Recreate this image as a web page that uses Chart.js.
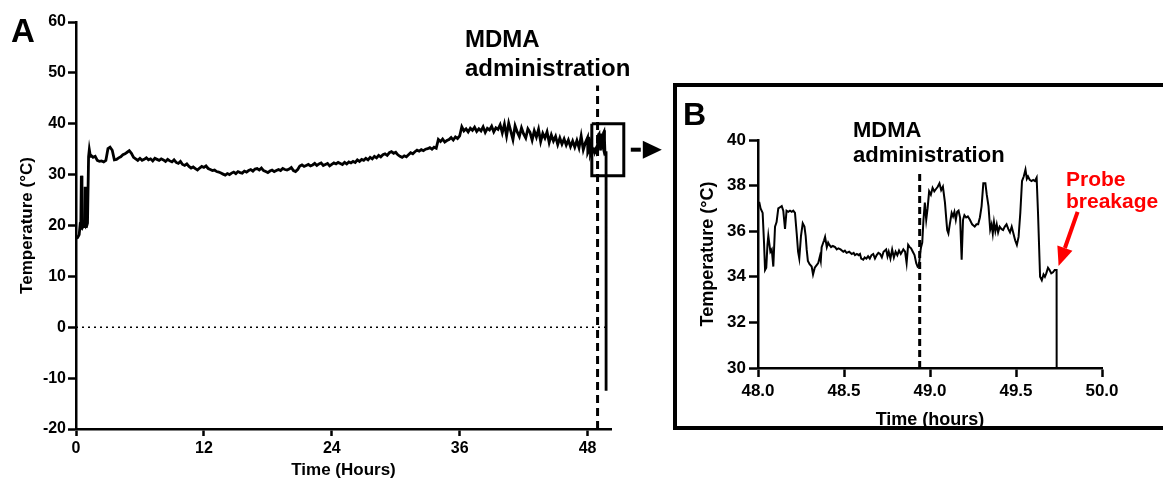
<!DOCTYPE html>
<html>
<head>
<meta charset="utf-8">
<script src="https://cdn.jsdelivr.net/npm/chart.js@4/dist/chart.umd.min.js"></script>
<style>
  html, body { margin: 0; padding: 0; background: #fff; width: 1163px; height: 481px; overflow: hidden; }
  #chartA { position: absolute; left: 0; top: 0; }
  #chartB { position: absolute; left: 677px; top: 87px; }
  #frameB { position: absolute; left: 673px; top: 83px; width: 600px; height: 347px;
            box-sizing: border-box; border: 4px solid #000; pointer-events: none; }
</style>
</head>
<body>
<canvas id="chartA" width="672" height="481"></canvas>
<canvas id="chartB" width="486" height="345"></canvas>
<div id="frameB"></div>
<script>
// ---------- Panel A: whole recording ----------
// Probe insertion / warm-up (irregular samples)
const timeEarly = [0, 0.15, 0.3, 0.38, 0.45, 0.5, 0.56, 0.65, 0.75, 0.82, 0.86, 0.92, 1.0, 1.08, 1.18, 1.25, 1.35];
const tempEarly = [17.5, 17.6, 18.2, 20.0, 19.8, 29.8, 21.0, 19.8, 20.2, 20.0, 27.6, 20.0, 19.9, 20.5, 33.5, 34.9, 33.6];

// Regular sampling from 1.4 h to 47.8 h
const sampleStartA = 1.4;   // hours
const sampleStepA = 0.2;    // hours between samples
const tempA = [
  33.8, 33.4, 33.6,
  32.8, 32.6, 32.7, 32.5, 32.8,
  35.1, 35.4, 34.8, 32.9, 33.0,
  33.3, 33.5, 33.9, 34.1, 34.4,
  34.7, 34.2, 33.4, 33.1, 32.8,
  33.2, 32.8, 33.0, 33.3, 32.9,
  33.1, 32.7, 33.2, 33.0, 32.8,
  33.1, 32.9, 32.6, 33.0, 32.7,
  32.5, 32.9, 32.4, 32.2, 32.6,
  32.0, 31.8, 32.1, 31.6, 31.3,
  31.5, 31.2, 30.9, 31.3, 31.6,
  31.4, 31.7, 31.2, 31.0, 30.8,
  30.9, 30.6, 30.5, 30.3, 30.1,
  29.9, 30.2, 30.0, 30.3, 30.5,
  30.2, 30.6, 30.4, 30.3, 30.7,
  30.5, 30.8, 31.0, 30.7, 31.1,
  31.2, 30.9, 31.3, 30.8, 30.6,
  30.4, 30.7, 30.9, 30.6, 30.8,
  31.0, 30.8, 31.2, 31.0, 30.9,
  31.1, 31.4, 30.8, 30.6, 31.0,
  31.7, 31.9, 31.6, 31.8, 32.0,
  31.7, 31.9, 32.2, 31.8, 32.1,
  32.3, 31.8, 32.0, 32.2, 31.7,
  32.0, 32.3, 32.1, 32.4, 32.2,
  32.0, 32.4, 32.1, 32.5, 32.3,
  32.6, 32.4, 32.9, 32.6, 33.0,
  32.8, 33.2, 32.9, 33.4, 33.1,
  33.6, 33.3, 33.8, 33.5, 33.9,
  34.1, 33.8, 34.3, 34.5, 34.2,
  34.4, 33.9, 33.6, 33.4, 33.7,
  33.5, 33.9, 34.3, 34.1, 34.5,
  34.8, 34.6, 34.9, 34.7, 35.0,
  35.1, 35.3, 35.0, 35.4, 35.2,
  36.9, 36.5, 37.0, 36.4, 36.7,
  36.9, 37.3, 36.8, 37.4, 37.1,
  37.6, 39.4, 38.6, 39.0, 38.4,
  39.1, 38.7, 39.3, 38.5, 39.0,
  38.6, 39.4, 38.3, 39.1, 38.8,
  39.5, 38.4, 39.2, 38.9, 39.8,
  38.2, 39.9, 37.6, 40.1, 38.5,
  36.9, 39.6, 38.4, 37.5, 39.2,
  38.0, 37.2, 39.0, 38.3, 36.8,
  38.6, 37.4, 38.9, 36.5, 38.1,
  37.2, 38.4, 36.3, 37.8, 36.6,
  37.5, 35.9, 37.2, 36.0, 37.0,
  35.8, 36.8, 35.5, 36.6, 35.4,
  36.7, 35.3, 37.6, 34.9, 36.3
];

// ---------- Panel B: last two hours, fine sampling ----------
const timeB = [
  48.000, 48.008, 48.015, 48.027, 48.035, 48.041, 48.048, 48.055, 48.060, 48.065,
  48.072, 48.080, 48.089, 48.099, 48.108, 48.118, 48.128, 48.138, 48.147, 48.157,
  48.166, 48.176, 48.186, 48.196, 48.205, 48.215, 48.225, 48.233, 48.240, 48.250,
  48.260, 48.270, 48.277, 48.283, 48.290, 48.300, 48.312, 48.320, 48.330, 48.340,
  48.350, 48.360, 48.365, 48.370, 48.377, 48.384, 48.390, 48.400, 48.408, 48.415,
  48.425, 48.435, 48.448, 48.458, 48.467, 48.480, 48.496, 48.505, 48.515, 48.530,
  48.545, 48.556, 48.564, 48.575, 48.585, 48.593, 48.600, 48.612, 48.620, 48.630,
  48.640, 48.650, 48.660, 48.670, 48.680, 48.690, 48.700, 48.710, 48.720, 48.730,
  48.745, 48.753, 48.760, 48.770, 48.780, 48.790, 48.800, 48.810, 48.820, 48.830,
  48.845, 48.855, 48.864, 48.873, 48.882, 48.890, 48.900, 48.910, 48.920, 48.928,
  48.936, 48.942, 48.948, 48.955, 48.962, 48.970, 48.978, 48.986, 48.995, 49.005,
  49.015, 49.025, 49.035, 49.045, 49.055, 49.065, 49.075, 49.087, 49.095, 49.100,
  49.107, 49.115, 49.126, 49.134, 49.142, 49.150, 49.158, 49.166, 49.175, 49.184,
  49.192, 49.200, 49.210, 49.220, 49.232, 49.245, 49.260, 49.270, 49.280, 49.290,
  49.300, 49.310, 49.322, 49.330, 49.340, 49.350, 49.358, 49.365, 49.372, 49.380,
  49.388, 49.396, 49.405, 49.415, 49.425, 49.435, 49.445, 49.455, 49.465, 49.475,
  49.485, 49.495, 49.505, 49.515, 49.525, 49.535, 49.545, 49.555, 49.563, 49.570,
  49.580, 49.590, 49.600, 49.610, 49.620, 49.628, 49.640, 49.650, 49.660, 49.668,
  49.676, 49.686, 49.695, 49.705, 49.715, 49.725, 49.736, 49.740
];
const tempB = [
  37.25, 37.25, 37.0, 36.8, 35.5, 34.3, 34.4, 35.4, 35.8, 35.5,
  35.1, 35.2, 34.45, 36.2, 36.4, 37.0, 37.05, 37.1, 36.9, 36.1,
  36.9, 36.85, 36.9, 36.85, 36.9, 36.8, 35.9, 35.1, 34.8, 35.8,
  36.35, 36.2, 35.8, 35.2, 34.7, 34.55, 34.45, 34.1, 34.4, 34.5,
  34.6, 34.9, 34.7, 35.3, 35.45, 35.6, 35.75, 35.3, 35.5, 35.4,
  35.3, 35.35, 35.3, 35.2, 35.25, 35.2, 35.1, 35.15, 35.05, 35.1,
  35.0, 35.05, 34.95, 35.0, 34.95, 35.0, 34.8, 34.75, 34.85, 34.8,
  34.9, 34.8, 34.95, 35.0, 34.8, 34.95, 35.05, 35.0, 34.85, 35.1,
  35.2, 34.9, 35.1, 34.8, 35.2, 34.85, 35.1, 34.95, 35.15, 35.0,
  35.2, 35.1, 34.6, 35.4, 35.3, 35.25, 35.1, 34.95, 34.6, 34.45,
  34.5, 35.0, 35.3, 35.5, 36.5, 37.25, 36.5, 37.0, 37.75, 37.6,
  37.9, 37.75, 37.85, 37.95, 38.1, 37.8, 37.95, 37.25, 36.5, 36.05,
  35.9, 36.3, 36.8, 36.65, 36.85, 36.5, 36.85, 36.9, 36.6, 34.75,
  36.5, 36.7, 36.6, 36.65, 36.5, 36.3, 36.2, 36.3, 36.3, 36.6,
  37.1, 38.1, 38.1, 37.6, 37.1, 36.07, 36.3, 35.9, 36.4, 36.0,
  36.3, 35.95, 36.2, 36.1, 36.05, 36.2, 36.3, 36.1, 35.95, 36.2,
  35.9, 35.6, 35.4, 35.75, 36.8, 38.2, 38.4, 38.7, 38.3, 38.4,
  38.25, 38.2, 38.25, 38.2, 38.35, 36.8, 34.0, 33.85, 34.1, 34.0,
  34.15, 34.4, 34.3, 34.15, 34.2, 34.3, 34.3, -12.5
];

// Event markers and axis ticks
const mdmaTime = 48.94;          // hours
const breakageIndex = timeB.length - 2; // last valid reading before the probe broke
const hourTicksA = [0, 12, 24, 36, 48];
const tempTicksA = [-20, -10, 0, 10, 20, 30, 40, 50, 60];
const hourTicksB = [48.0, 48.5, 49.0, 49.5, 50.0];
const tempTicksB = [30, 32, 34, 36, 38, 40];
// Region of panel A enlarged in panel B
const zoomRegion = { x1: 48.4, x2: 51.4, y1: 29.8, y2: 40 };

const FONT = "'Liberation Sans', Arial, Helvetica, sans-serif";
Chart.defaults.font.family = FONT;
Chart.defaults.font.weight = 'bold';
Chart.defaults.color = '#000';

// Build point lists
const traceA = [];
timeEarly.forEach((t, i) => traceA.push({ x: t, y: tempEarly[i] }));
tempA.forEach((v, i) => traceA.push({ x: +(sampleStartA + i * sampleStepA).toFixed(2), y: v }));
timeB.forEach((t, i) => traceA.push({ x: t, y: tempB[i] }));
const traceB = timeB.map((t, i) => ({ x: t, y: tempB[i] }));

function axisStyle(width, tickLen) {
  return {
    grid: { display: true, drawOnChartArea: false, drawTicks: true, tickLength: tickLen, tickWidth: width, tickColor: '#000' },
    border: { display: true, color: '#000', width: width }
  };
}

// ---------- Chart A ----------
const annotateA = {
  id: 'annotateA',
  afterDraw(chart) {
    const ctx = chart.ctx;
    const xs = chart.scales.x, ys = chart.scales.y;
    ctx.save();
    ctx.fillStyle = '#000';
    ctx.textBaseline = 'alphabetic';
    ctx.font = 'bold 33px ' + FONT;
    ctx.fillText('A', 11, 42);
    ctx.font = 'bold 24px ' + FONT;
    ctx.fillText('MDMA', 465, 47);
    ctx.fillText('administration', 465, 76);
    // pointer from the enlarged region towards panel B
    const bx = xs.getPixelForValue(zoomRegion.x2);
    const by = (ys.getPixelForValue(zoomRegion.y1) + ys.getPixelForValue(zoomRegion.y2)) / 2;
    ctx.strokeStyle = '#000';
    ctx.lineWidth = 4;
    ctx.beginPath();
    ctx.moveTo(bx + 7, by); ctx.lineTo(bx + 17, by);
    ctx.stroke();
    ctx.beginPath();
    ctx.moveTo(bx + 19, by - 9); ctx.lineTo(bx + 38, by); ctx.lineTo(bx + 19, by + 9);
    ctx.closePath();
    ctx.fill();
    ctx.restore();
  }
};

new Chart(document.getElementById('chartA'), {
  type: 'line',
  data: {
    datasets: [
      { data: traceA, borderColor: '#000', borderWidth: 2.8, pointRadius: 0, tension: 0, order: 1 },
      { data: [{ x: 0, y: 0 }, { x: 49.8, y: 0 }], borderColor: '#000', borderWidth: 1.5, borderDash: [2, 4], pointRadius: 0, order: 3 },
      { data: [{ x: mdmaTime, y: -20 }, { x: mdmaTime, y: 47.5 }], borderColor: '#000', borderWidth: 3, borderDash: [8, 5], pointRadius: 0, order: 2, clip: false },
      { data: [
          { x: zoomRegion.x1, y: zoomRegion.y2 }, { x: zoomRegion.x2, y: zoomRegion.y2 },
          { x: zoomRegion.x2, y: zoomRegion.y1 }, { x: zoomRegion.x1, y: zoomRegion.y1 },
          { x: zoomRegion.x1, y: zoomRegion.y2 }
        ], borderColor: '#000', borderWidth: 3, pointRadius: 0, order: 0, clip: false }
    ]
  },
  options: {
    responsive: false,
    animation: false,
    layout: { padding: { left: 0, top: 22, right: 61, bottom: 0 } },
    plugins: { legend: { display: false }, tooltip: { enabled: false } },
    scales: {
      x: Object.assign({
        type: 'linear', min: 0, max: 50.2,
        afterBuildTicks: s => { s.ticks = hourTicksA.map(v => ({ value: v })); },
        afterFit: s => { s.height = 52; },
        ticks: { font: { size: 16, weight: 'bold' }, color: '#000', padding: 3, maxRotation: 0 },
        title: { display: true, text: 'Time (Hours)', font: { size: 17, weight: 'bold' }, color: '#000', padding: { top: 0, bottom: 0 } }
      }, axisStyle(2.5, 7)),
      y: Object.assign({
        type: 'linear', min: -20, max: 60,
        afterBuildTicks: s => { s.ticks = tempTicksA.map(v => ({ value: v })); },
        afterFit: s => { s.width = 76; },
        ticks: { font: { size: 16, weight: 'bold' }, color: '#000', padding: 2 },
        title: { display: true, text: 'Temperature (°C)', font: { size: 17, weight: 'bold' }, color: '#000', padding: { top: 17, bottom: 0 } }
      }, axisStyle(2.5, 8))
    }
  },
  plugins: [annotateA]
});

// ---------- Chart B ----------
const annotateB = {
  id: 'annotateB',
  afterDraw(chart) {
    const ctx = chart.ctx;
    const xs = chart.scales.x, ys = chart.scales.y;
    ctx.save();
    ctx.fillStyle = '#000';
    ctx.font = 'bold 32px ' + FONT;
    ctx.fillText('B', 6, 38);
    ctx.font = 'bold 22px ' + FONT;
    ctx.fillText('MDMA', 176, 50);
    ctx.fillText('administration', 176, 75);
    ctx.fillStyle = '#ff0000';
    ctx.font = 'bold 21px ' + FONT;
    ctx.fillText('Probe', 389, 99);
    ctx.fillText('breakage', 389, 121);
    // arrow pointing at the last valid reading
    const tipX = xs.getPixelForValue(timeB[breakageIndex]) + 2;
    const tipY = ys.getPixelForValue(tempB[breakageIndex]) - 4;
    const startX = tipX + 19, startY = tipY - 54;
    const ang = Math.atan2(tipY - startY, tipX - startX);
    const headLen = 19, headHalf = 8;
    const baseX = tipX - headLen * Math.cos(ang), baseY = tipY - headLen * Math.sin(ang);
    ctx.strokeStyle = '#ff0000';
    ctx.lineWidth = 4;
    ctx.beginPath();
    ctx.moveTo(startX, startY); ctx.lineTo(baseX, baseY);
    ctx.stroke();
    ctx.beginPath();
    ctx.moveTo(tipX, tipY);
    ctx.lineTo(baseX + headHalf * Math.sin(ang), baseY - headHalf * Math.cos(ang));
    ctx.lineTo(baseX - headHalf * Math.sin(ang), baseY + headHalf * Math.cos(ang));
    ctx.closePath();
    ctx.fill();
    ctx.restore();
  }
};

new Chart(document.getElementById('chartB'), {
  type: 'line',
  data: {
    datasets: [
      { data: traceB, borderColor: '#000', borderWidth: 2, pointRadius: 0, tension: 0, order: 1 },
      { data: [{ x: mdmaTime, y: 30 }, { x: mdmaTime, y: 38.57 }], borderColor: '#000', borderWidth: 3, borderDash: [7, 4], pointRadius: 0, order: 2 }
    ]
  },
  options: {
    responsive: false,
    animation: false,
    layout: { padding: { left: 0, top: 53, right: 61, bottom: 0 } },
    plugins: { legend: { display: false }, tooltip: { enabled: false } },
    scales: {
      x: Object.assign({
        type: 'linear', min: 48, max: 50,
        afterBuildTicks: s => { s.ticks = hourTicksB.map(v => ({ value: v })); },
        afterFit: s => { s.height = 64; },
        ticks: { font: { size: 17, weight: 'bold' }, color: '#000', padding: 4, maxRotation: 0, callback: v => Number(v).toFixed(1) },
        title: { display: true, text: 'Time (hours)', font: { size: 18, weight: 'bold' }, color: '#000', padding: { top: 0, bottom: 1 } }
      }, axisStyle(2.5, 9)),
      y: Object.assign({
        type: 'linear', min: 30, max: 40,
        afterBuildTicks: s => { s.ticks = tempTicksB.map(v => ({ value: v })); },
        afterFit: s => { s.width = 81; },
        ticks: { font: { size: 17, weight: 'bold' }, color: '#000', padding: 3 },
        title: { display: true, text: 'Temperature (°C)', font: { size: 18, weight: 'bold' }, color: '#000', padding: { top: 20, bottom: 0 } }
      }, axisStyle(2.5, 9))
    }
  },
  plugins: [annotateB]
});
</script>
</body>
</html>
